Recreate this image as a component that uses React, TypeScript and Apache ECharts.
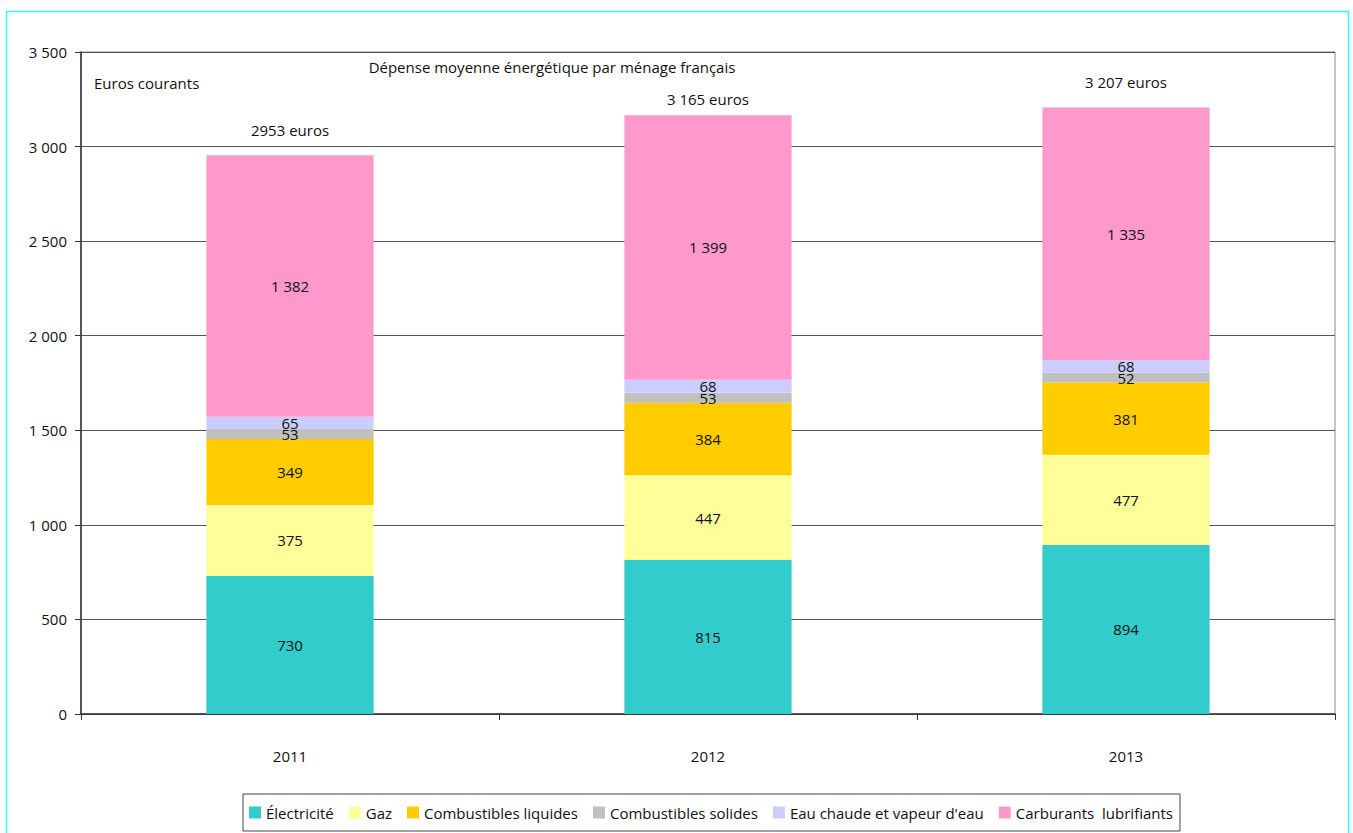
import React, { useEffect, useRef } from "react";
import * as echarts from "echarts";

const years = ["2011", "2012", "2013"];
const electricite = [730, 815, 894];
const gaz = [375, 447, 477];
const combLiquides = [349, 384, 381];
const combSolides = [53, 53, 52];
const eauChaude = [65, 68, 68];
const carburants = [1382, 1399, 1335];
const totals = [2953, 3165, 3207];
const totalLabels = ["2953 euros", "3 165 euros", "3 207 euros"];
const totalLabelGaps = [17, 8, 17];

const seriesNames = [
  "Électricité",
  "Gaz",
  "Combustibles liquides",
  "Combustibles solides",
  "Eau chaude et vapeur d'eau",
  "Carburants  lubrifiants",
];
const seriesData = [electricite, gaz, combLiquides, combSolides, eauChaude, carburants];
const colors = ["#33CCCC", "#FFFF99", "#FFCC00", "#C0C0C0", "#CCCCFF", "#FF99CC"];

const FONT = '"Open Sans", "Noto Sans", sans-serif';
const FS = 15;
const fmt = (v: number) =>
  v >= 1000 ? `${Math.floor(v / 1000)} ${String(v % 1000).padStart(3, "0")}` : String(v);

export default function App() {
  const ref = useRef<HTMLDivElement>(null);
  useEffect(() => {
    if (!ref.current) return;
    const chart = echarts.init(ref.current, null, { renderer: "svg" });
    const bars = seriesNames.map((name, i) => ({
      name,
      type: "bar",
      stack: "total",
      barWidth: "40%",
      data: seriesData[i],
      itemStyle: { color: colors[i] },
      label: {
        show: true,
        position: "inside",
        color: "#111",
        fontFamily: FONT,
        fontSize: FS,
        formatter: (p: any) => fmt(p.value),
      },
    }));
    chart.setOption({
      animation: false,
      backgroundColor: "#fff",
      textStyle: { fontFamily: FONT },
      grid: {
        left: 81,
        right: 18,
        top: 52,
        bottom: 119,
        show: true,
        borderColor: "#888",
        borderWidth: 1,
      },
      graphic: [
        {
          type: "rect",
          shape: { x: 6.5, y: 11.5, width: 1342, height: 840 },
          style: { fill: "none", stroke: "#33FFFF", lineWidth: 1.5 },
          silent: true,
        },
        {
          type: "text",
          x: 94,
          y: 83,
          style: { text: "Euros courants", font: `${FS}px ${FONT}`, fill: "#111", textVerticalAlign: "middle" },
        },
        {
          type: "text",
          x: 552,
          y: 67,
          style: {
            text: "Dépense moyenne énergétique par ménage français",
            font: `${FS}px ${FONT}`,
            fill: "#111",
            textAlign: "center",
            textVerticalAlign: "middle",
          },
        },
      ],
      legend: {
        data: seriesNames,
        left: 243,
        top: 794,
        padding: [11, 7, 11, 6],
        itemGap: 15,
        itemWidth: 12,
        itemHeight: 12,
        icon: "rect",
        borderColor: "#444",
        borderWidth: 1,
        textStyle: { fontFamily: FONT, fontSize: FS, color: "#111", padding: [0, 0, 0, 0] },
      },
      xAxis: {
        type: "category",
        data: years,
        axisLine: { lineStyle: { color: "#333", width: 1.5 } },
        axisTick: { show: true, length: 6, lineStyle: { color: "#333" } },
        axisLabel: { color: "#111", fontSize: FS, fontFamily: FONT, margin: 34 },
      },
      yAxis: {
        type: "value",
        min: 0,
        max: 3500,
        interval: 500,
        axisLine: { show: true, lineStyle: { color: "#333", width: 1.5 } },
        axisTick: { show: true, length: 6, lineStyle: { color: "#333" } },
        axisLabel: { color: "#111", fontSize: FS, fontFamily: FONT, margin: 14, formatter: (v: number) => fmt(v) },
        splitLine: { lineStyle: { color: "#555", width: 1 } },
      },
      series: [
        ...bars,
        {
          name: "totals",
          type: "scatter",
          symbolSize: 1,
          z: 10,
          itemStyle: { color: "#fff", opacity: 0 },
          data: totals.map((t, i) => ({
            value: t,
            label: { distance: totalLabelGaps[i] },
          })),
          label: {
            show: true,
            position: "top",
            color: "#111",
            opacity: 1,
            fontFamily: FONT,
            fontSize: FS,
            formatter: (p: any) => totalLabels[p.dataIndex],
          },
        },
      ],
    });
    return () => chart.dispose();
  }, []);
  return (
    <div
      ref={ref}
      style={{ position: "absolute", left: 0, top: 0, width: 1353, height: 833 }}
    />
  );
}
